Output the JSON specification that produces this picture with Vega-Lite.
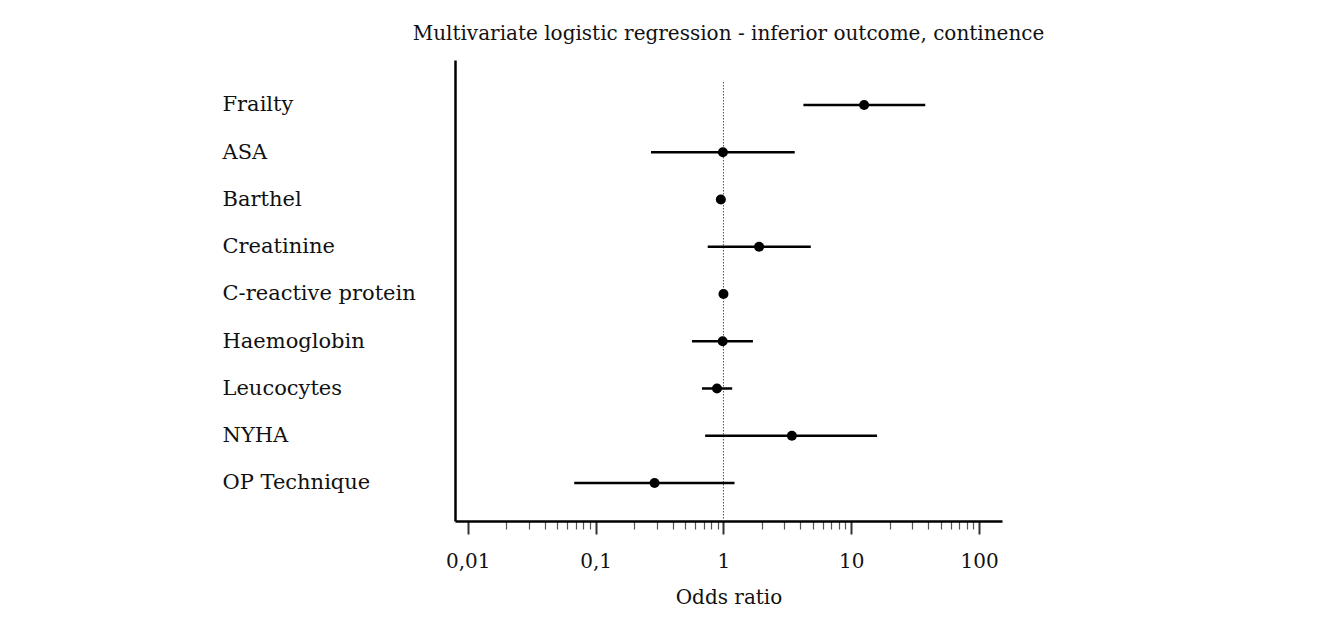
{
  "$schema": "https://vega.github.io/schema/vega-lite/v6.json",
  "width": 547,
  "height": 461,
  "autosize": {"type": "none"},
  "padding": {"left": 455, "top": 60, "right": 315, "bottom": 97},
  "background": "white",
  "title": {
    "text": "Multivariate logistic regression - inferior outcome, continence",
    "anchor": "middle",
    "font": "DejaVu Serif",
    "fontSize": 20,
    "fontWeight": "normal",
    "color": "#111111",
    "baseline": "alphabetic",
    "offset": 0
  },
  "config": {"view": {"stroke": null}},
  "data": {
    "values": [
      {"var": "Frailty", "or": 12.6, "lo": 4.22, "hi": 37.9},
      {"var": "ASA", "or": 0.99, "lo": 0.271, "hi": 3.61},
      {"var": "Barthel", "or": 0.954, "lo": 0.94, "hi": 0.97},
      {"var": "Creatinine", "or": 1.9, "lo": 0.753, "hi": 4.82},
      {"var": "C-reactive protein", "or": 1.0, "lo": 0.95, "hi": 1.01},
      {"var": "Haemoglobin", "or": 0.986, "lo": 0.567, "hi": 1.7},
      {"var": "Leucocytes", "or": 0.89, "lo": 0.679, "hi": 1.17},
      {"var": "NYHA", "or": 3.43, "lo": 0.719, "hi": 15.9},
      {"var": "OP Technique", "or": 0.289, "lo": 0.068, "hi": 1.22}
    ]
  },
  "resolve": {"axis": {"x": "independent"}},
  "layer": [
    {
      "data": {"values": [{"ref": 1}]},
      "mark": {"type": "rule", "strokeDash": [1.5, 1.5], "strokeWidth": 1, "color": "#555555", "yOffset": 22, "y2Offset": -11},
      "encoding": {
        "x": {"field": "ref", "type": "quantitative", "scale": {"type": "log", "domain": [0.00794, 151], "nice": false, "zero": false}, "axis": null}
      }
    },
    {
      "mark": {"type": "rule", "strokeWidth": 2.5, "color": "black"},
      "encoding": {
        "y": {
          "field": "var", "type": "nominal", "sort": null,
          "scale": {"type": "point", "padding": 0.878, "align": 0.542},
          "axis": {"orient": "left", "title": null, "ticks": false, "tickSize": 0, "labelAlign": "left", "labelBaseline": "middle", "labelPadding": 233, "labelLimit": 400, "labelFont": "DejaVu Serif", "labelFontSize": 21, "labelColor": "#111111", "domainColor": "black", "domainWidth": 2.5, "grid": false}
        },
        "x": {
          "field": "lo", "type": "quantitative",
          "scale": {"type": "log", "domain": [0.00794, 151], "nice": false, "zero": false},
          "axis": {"orient": "bottom", "title": null, "values": [0.02, 0.03, 0.04, 0.05, 0.06, 0.07, 0.08, 0.09, 0.2, 0.3, 0.4, 0.5, 0.6, 0.7, 0.8, 0.9, 2, 3, 4, 5, 6, 7, 8, 9, 20, 30, 40, 50, 60, 70, 80, 90], "labels": false, "domain": false, "grid": false, "tickSize": 8, "tickWidth": 1.2, "tickColor": "#555555"}
        },
        "x2": {"field": "hi"}
      }
    },
    {
      "mark": {"type": "point", "filled": true, "size": 100, "color": "black", "opacity": 1},
      "encoding": {
        "y": {
          "field": "var", "type": "nominal", "sort": null,
          "scale": {"type": "point", "padding": 0.878, "align": 0.542},
          "axis": {"orient": "left", "title": null, "ticks": false, "tickSize": 0, "labelAlign": "left", "labelBaseline": "middle", "labelPadding": 233, "labelLimit": 400, "labelFont": "DejaVu Serif", "labelFontSize": 21, "labelColor": "#111111", "domainColor": "black", "domainWidth": 2.5, "grid": false}
        },
        "x": {
          "field": "or", "type": "quantitative",
          "scale": {"type": "log", "domain": [0.00794, 151], "nice": false, "zero": false},
          "axis": {
            "orient": "bottom",
            "title": "Odds ratio", "values": [0.01, 0.1, 1, 10, 100],
            "labelExpr": "replace(format(datum.value, '~g'), '.', ',')",
            "labelFont": "DejaVu Serif", "labelFontSize": 20, "labelColor": "#111111",
            "labelBaseline": "alphabetic", "labelPadding": 33,
            "tickSize": 13, "tickWidth": 2, "tickColor": "#333333",
            "domainColor": "black", "domainWidth": 2.5, "grid": false,
            "titleFont": "DejaVu Serif", "titleFontSize": 20, "titleFontWeight": "normal", "titleColor": "#111111",
            "titleBaseline": "alphabetic", "titleY": 82
          }
        }
      }
    }
  ]
}
